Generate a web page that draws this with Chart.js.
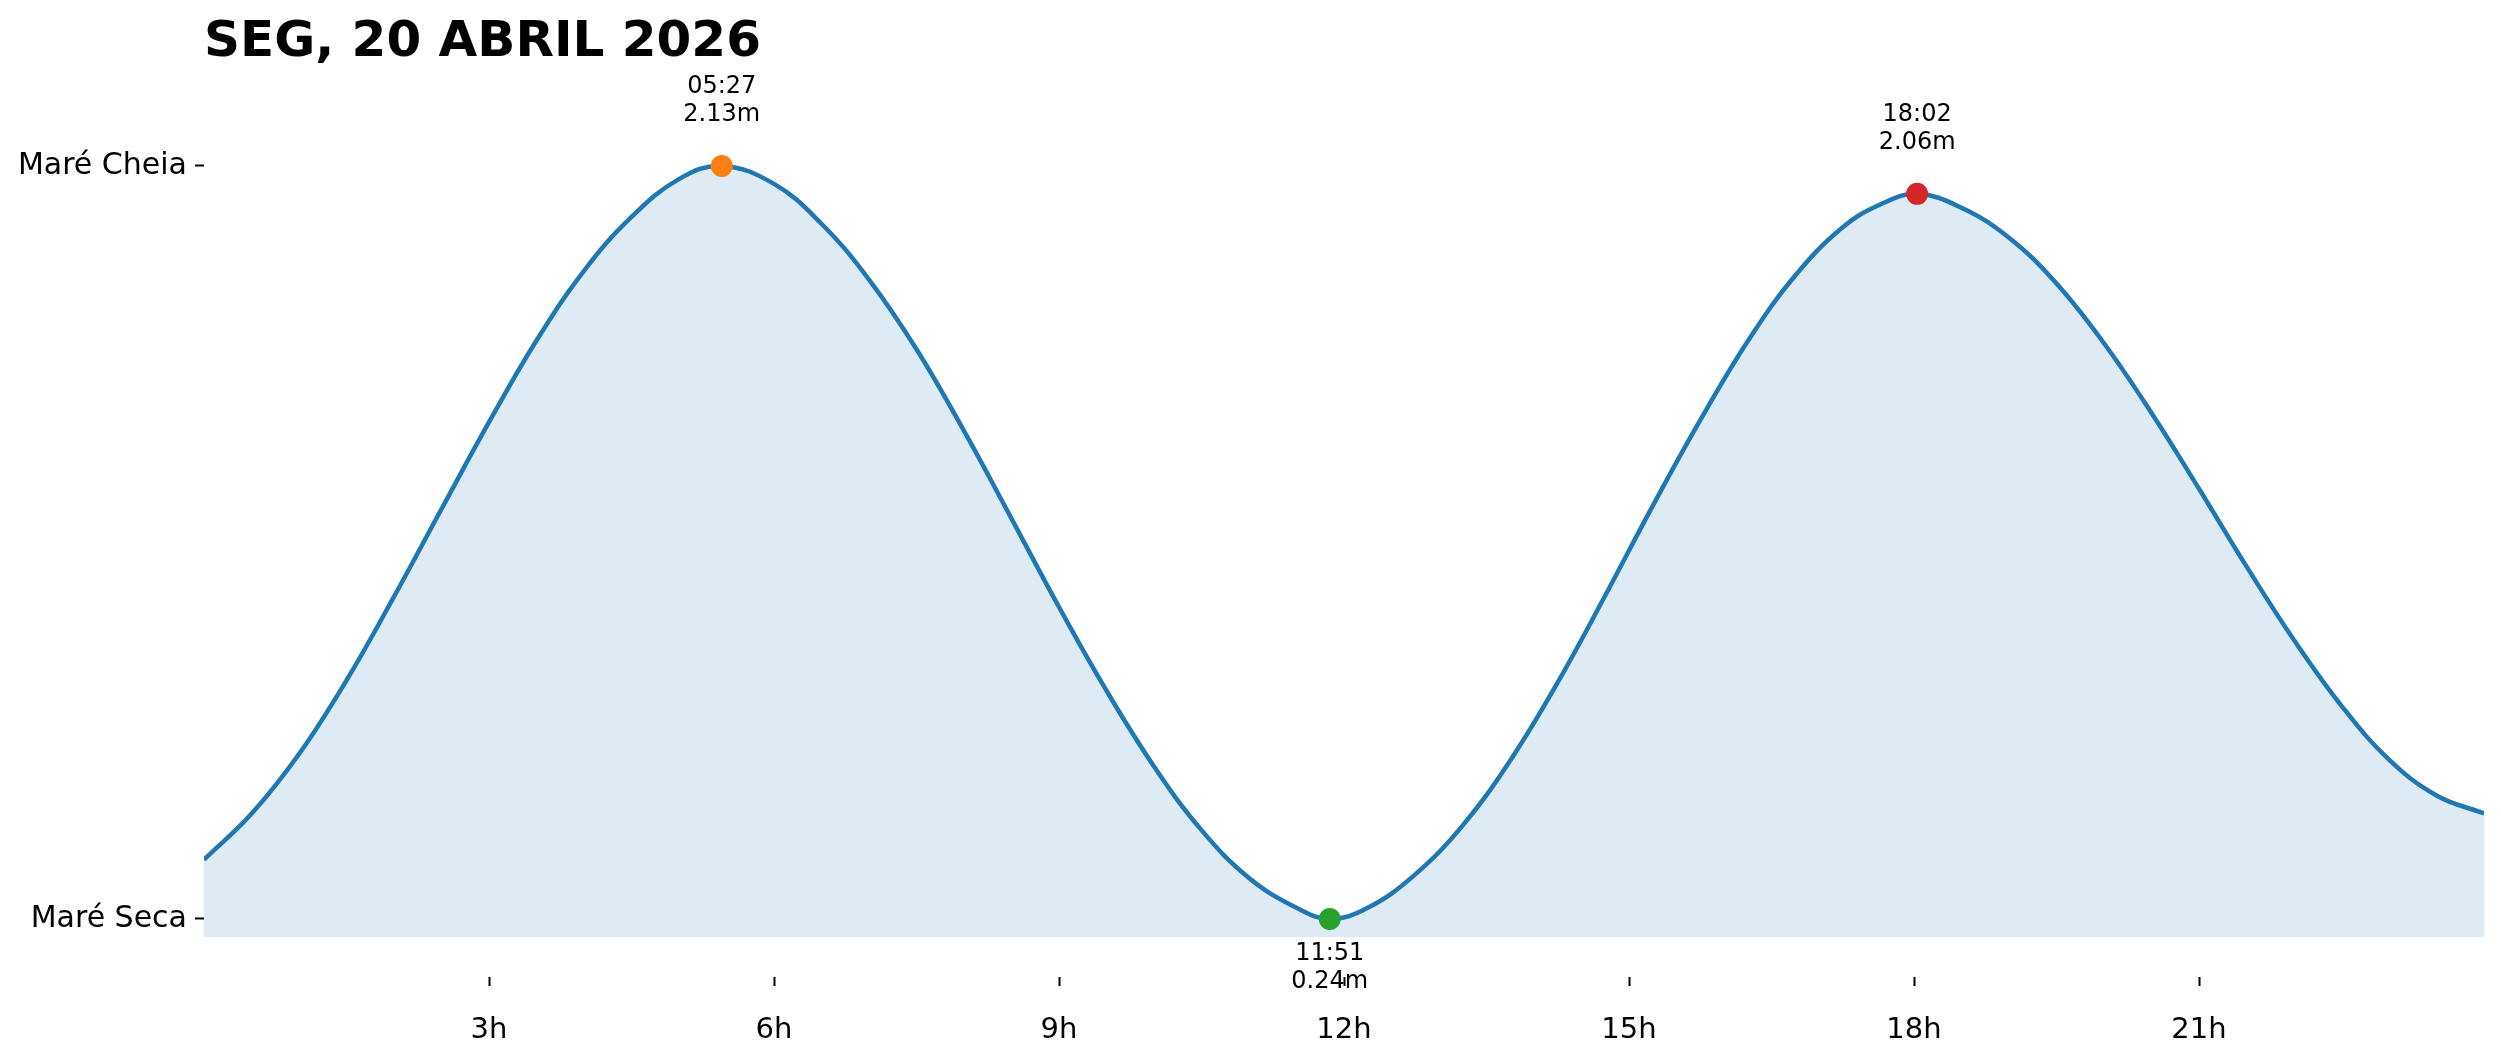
<!DOCTYPE html>
<html>
<head>
<meta charset="utf-8">
<title>Marés</title>
<script src="https://cdn.jsdelivr.net/npm/chart.js@4.4.1/dist/chart.umd.min.js"></script>
<style>
  html, body { margin: 0; padding: 0; background: #fff; }
  #wrap { width: 2501px; height: 1062px; position: relative; }
</style>
</head>
<body>
<div id="wrap"><canvas id="tide-chart"></canvas></div>
<script>
// Curva da maré (hora do dia -> altura em metros)
const hours = [0, 0.5, 1, 1.5, 2, 2.5, 3, 3.5, 4, 4.5, 5, 5.45, 6, 6.5, 7, 7.5, 8, 8.5, 9, 9.5,
  10, 10.5, 11, 11.5, 11.85, 12.25, 12.75, 13.25, 13.75, 14.25, 14.75, 15.25, 15.75, 16.25, 16.75, 17.25, 17.65, 18.033,
  18.5, 19, 19.5, 20, 20.5, 21, 21.5, 22, 22.5, 23, 23.5, 24];
const heights = [0.389, 0.504, 0.654, 0.839, 1.049, 1.269, 1.487, 1.692, 1.867, 2.002, 2.097, 2.13,
  2.085, 1.985, 1.845, 1.67, 1.465, 1.245, 1.023, 0.813, 0.623, 0.463, 0.343, 0.268, 0.24,
  0.268, 0.352, 0.475, 0.638, 0.834, 1.052, 1.277, 1.492, 1.690, 1.855, 1.976, 2.034, 2.06,
  2.025, 1.95, 1.835, 1.685, 1.51, 1.32, 1.125, 0.94, 0.775, 0.64, 0.55, 0.505];

// Preia-mar / baixa-mar
const extremeTimes = ['05:27', '11:51', '18:02'];
const extremeHours = [5.45, 11.85, 18.033];
const extremeHeights = [2.13, 0.24, 2.06];
const extremeKinds = ['high', 'low', 'high'];
const extremeColors = ['#ff7f0e', '#2ca02c', '#d62728'];

// Eixos
const xTickValues = [3, 6, 9, 12, 15, 18, 21];
const yTickValues = [0.24, 2.13];
const yTickLabels = ['Maré Seca', 'Maré Cheia'];

const titleText = 'SEG, 20 ABRIL 2026';
const FONT = '"DejaVu Sans", "Liberation Sans", sans-serif';

const extremeLabels = {
  id: 'extremeLabels',
  beforeDraw(chart) {
    const { ctx, scales: { x, y }, chartArea } = chart;
    ctx.save();
    // título
    ctx.fillStyle = '#000';
    ctx.font = 'bold 50px ' + FONT;
    ctx.textAlign = 'left';
    ctx.textBaseline = 'alphabetic';
    ctx.fillText(titleText, chartArea.left, 56);

    // anotações dos extremos
    ctx.font = '24px ' + FONT;
    ctx.textAlign = 'center';
    extremeHours.forEach((h, i) => {
      const px = x.getPixelForValue(h);
      const py = y.getPixelForValue(extremeHeights[i]);
      const l1 = extremeTimes[i];
      const l2 = extremeHeights[i].toFixed(2) + 'm';
      if (extremeKinds[i] === 'high') {
        ctx.fillText(l1, px, py - 72.5);
        ctx.fillText(l2, px, py - 45);
      } else {
        ctx.fillText(l1, px, py + 41);
        ctx.fillText(l2, px, py + 69.5);
      }
    });
    ctx.restore();
  }
};

const ctx = document.getElementById('tide-chart');
new Chart(ctx, {
  type: 'line',
  data: {
    datasets: [
      {
        type: 'scatter',
        data: extremeHours.map((h, i) => ({ x: h, y: extremeHeights[i] })),
        pointRadius: 11,
        pointBackgroundColor: extremeColors,
        pointBorderWidth: 0,
        showLine: false,
        order: 0,
      },
      {
        data: hours.map((h, i) => ({ x: h, y: heights[i] })),
        borderColor: '#1f77b4',
        borderWidth: 4.5,
        backgroundColor: 'rgba(31,119,180,0.15)',
        fill: { value: 0.195 },
        pointRadius: 0,
        tension: 0.4,
        order: 1,
      },
    ],
  },
  options: {
    responsive: true,
    maintainAspectRatio: false,
    animation: false,
    devicePixelRatio: 1,
    layout: { padding: { top: 58.4, right: 17, bottom: 0, left: 0 } },
    plugins: {
      legend: { display: false },
      tooltip: { enabled: false },
      title: { display: false },
    },
    scales: {
      x: {
        type: 'linear',
        min: 0,
        max: 24,
        afterBuildTicks: axis => { axis.ticks = xTickValues.map(v => ({ value: v })); },
        afterFit: axis => { axis.height = 85; },
        border: { display: false },
        grid: { drawOnChartArea: false, drawTicks: true, tickLength: 9, tickColor: '#000', tickWidth: 2 },
        ticks: {
          color: '#000',
          font: { family: FONT, size: 29 },
          padding: 27,
          autoSkip: false,
          maxRotation: 0,
          callback: v => v + 'h',
        },
      },
      y: {
        min: 0.0944,
        max: 2.4,
        afterBuildTicks: axis => { axis.ticks = yTickValues.map(v => ({ value: v })); },
        afterFit: axis => { axis.width = 204; },
        border: { display: false },
        grid: { drawOnChartArea: false, drawTicks: true, tickLength: 9, tickColor: '#000', tickWidth: 2 },
        ticks: {
          color: '#000',
          font: { family: FONT, size: 30 },
          padding: 8,
          callback: v => {
            const i = yTickValues.indexOf(v);
            return i >= 0 ? yTickLabels[i] : '';
          },
        },
      },
    },
  },
  plugins: [extremeLabels],
});
</script>
</body>
</html>
